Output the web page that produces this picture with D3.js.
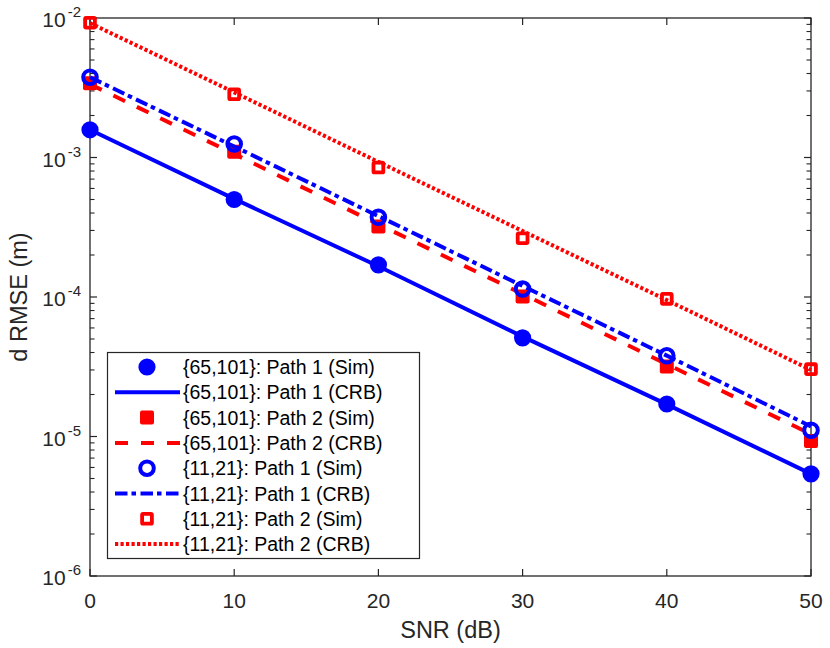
<!DOCTYPE html>
<html lang="en">
<head>
<meta charset="UTF-8" />
<title>d RMSE vs SNR</title>
<script src="https://d3js.org/d3.v7.min.js"></script>
<style>
    body { margin: 0; background: #ffffff; font-family: "Liberation Sans", Arial, sans-serif; }
    svg text { fill: #262626; }
    .legend-text { fill: #000000; }
</style>
</head>
<body>
<svg id="chart" width="830" height="648"></svg>
<script>
    // SNR values (dB)
    const snr = [0, 10, 20, 30, 40, 50];

    // series values
    const p1Sim65 = [1.58e-3, 5.0e-4, 1.70e-4, 5.1e-5, 1.71e-5, 5.4e-6];
    const p1Crb65 = [1.58e-3, 5.05e-4, 1.66e-4, 5.2e-5, 1.7e-5, 5.4e-6];
    const p2Sim65 = [3.4e-3, 1.10e-3, 3.2e-4, 1.01e-4, 3.18e-5, 9.3e-6];
    const p2Crb65 = [3.35e-3, 1.06e-3, 3.32e-4, 1.05e-4, 3.3e-5, 1.04e-5];
    const p1Sim11 = [3.76e-3, 1.25e-3, 3.73e-4, 1.14e-4, 3.79e-5, 1.11e-5];
    const p1Crb11 = [3.76e-3, 1.2e-3, 3.8e-4, 1.2e-4, 3.8e-5, 1.18e-5];
    const p2Sim11 = [9.25e-3, 2.84e-3, 8.47e-4, 2.64e-4, 9.7e-5, 3.04e-5];
    const p2Crb11 = [9.2e-3, 2.93e-3, 9.3e-4, 2.97e-4, 9.5e-5, 3.0e-5];

    // tick labels
    const xTicks = [0, 10, 20, 30, 40, 50];
    const yTickExp = [-2, -3, -4, -5, -6];

    const series = [
        { name: "{65,101}: Path 1 (Sim)", values: p1Sim65, color: "#0000ff", marker: "dot" },
        { name: "{65,101}: Path 1 (CRB)", values: p1Crb65, color: "#0000ff", dash: null },
        { name: "{65,101}: Path 2 (Sim)", values: p2Sim65, color: "#ff0000", marker: "square" },
        { name: "{65,101}: Path 2 (CRB)", values: p2Crb65, color: "#ff0000", dash: "13,13" },
        { name: "{11,21}: Path 1 (Sim)", values: p1Sim11, color: "#0000ff", marker: "ring" },
        { name: "{11,21}: Path 1 (CRB)", values: p1Crb11, color: "#0000ff", dash: "12.5,4,4.5,4.5" },
        { name: "{11,21}: Path 2 (Sim)", values: p2Sim11, color: "#ff0000", marker: "box" },
        { name: "{11,21}: Path 2 (CRB)", values: p2Crb11, color: "#ff0000", dash: "3.2,2.3" }
    ];

    const mLeft = 90, mRight = 811, mTop = 18, mBottom = 576;
    const axisColor = "#262626";

    const svg = d3.select("#chart");

    const x = d3.scaleLinear().domain([0, 50]).range([mLeft, mRight]);
    const y = d3.scaleLog().domain([1e-6, 1e-2]).range([mBottom, mTop]);

    // minor log ticks
    const minorTicks = [];
    for (let e = -6; e < -2; e++) {
        for (let m = 2; m <= 9; m++) minorTicks.push(m * Math.pow(10, e));
    }

    const axes = svg.append("g");

    // box
    axes.append("rect")
        .attr("x", mLeft).attr("y", mTop)
        .attr("width", mRight - mLeft).attr("height", mBottom - mTop)
        .attr("fill", "none").attr("stroke", axisColor).attr("stroke-width", 1.3);

    // x ticks (bottom + top, inward)
    xTicks.forEach(t => {
        axes.append("line").attr("x1", x(t)).attr("x2", x(t))
            .attr("y1", mBottom).attr("y2", mBottom - 7)
            .attr("stroke", axisColor).attr("stroke-width", 1.2);
        axes.append("line").attr("x1", x(t)).attr("x2", x(t))
            .attr("y1", mTop).attr("y2", mTop + 7)
            .attr("stroke", axisColor).attr("stroke-width", 1.2);
        axes.append("text")
            .attr("x", x(t)).attr("y", mBottom + 32)
            .attr("text-anchor", "middle")
            .attr("font-size", "21px")
            .text(t);
    });

    // y major ticks
    yTickExp.forEach(e => {
        const v = Math.pow(10, e);
        axes.append("line").attr("x1", mLeft).attr("x2", mLeft + 7)
            .attr("y1", y(v)).attr("y2", y(v))
            .attr("stroke", axisColor).attr("stroke-width", 1.2);
        axes.append("line").attr("x1", mRight).attr("x2", mRight - 7)
            .attr("y1", y(v)).attr("y2", y(v))
            .attr("stroke", axisColor).attr("stroke-width", 1.2);
        const lab = axes.append("text")
            .attr("x", mLeft - 9).attr("y", y(v) + 9)
            .attr("text-anchor", "end")
            .attr("font-size", "21px");
        lab.append("tspan").text("10");
        lab.append("tspan").attr("dy", -10).attr("font-size", "15px").attr("dx", 2).text(e);
    });

    // y minor ticks
    minorTicks.forEach(v => {
        axes.append("line").attr("x1", mLeft).attr("x2", mLeft + 4.5)
            .attr("y1", y(v)).attr("y2", y(v))
            .attr("stroke", axisColor).attr("stroke-width", 1.1);
        axes.append("line").attr("x1", mRight).attr("x2", mRight - 4.5)
            .attr("y1", y(v)).attr("y2", y(v))
            .attr("stroke", axisColor).attr("stroke-width", 1.1);
    });

    // axis labels
    axes.append("text")
        .attr("x", (mLeft + mRight) / 2).attr("y", 638)
        .attr("text-anchor", "middle")
        .attr("font-size", "23.5px")
        .text("SNR (dB)");

    axes.append("text")
        .attr("transform", `translate(27,${(mTop + mBottom) / 2}) rotate(-90)`)
        .attr("text-anchor", "middle")
        .attr("font-size", "23.5px")
        .text("d RMSE (m)");

    // draw a marker of a given kind
    function drawMarker(g, kind, cx, cy, color) {
        if (kind === "dot") {
            g.append("circle").attr("cx", cx).attr("cy", cy).attr("r", 8.6).attr("fill", color);
        } else if (kind === "square") {
            g.append("rect").attr("x", cx - 7).attr("y", cy - 7)
                .attr("width", 14).attr("height", 14).attr("rx", 2)
                .attr("fill", color);
        } else if (kind === "ring") {
            g.append("circle").attr("cx", cx).attr("cy", cy).attr("r", 6.8)
                .attr("fill", "none").attr("stroke", color).attr("stroke-width", 4);
        } else if (kind === "box") {
            g.append("rect").attr("x", cx - 4.9).attr("y", cy - 4.9)
                .attr("width", 9.8).attr("height", 9.8).attr("rx", 1)
                .attr("fill", "none").attr("stroke", color).attr("stroke-width", 3.8);
        }
    }

    const line = d3.line()
        .x((d, i) => x(snr[i]))
        .y(d => y(d));

    const plot = svg.append("g");

    series.forEach(s => {
        if (s.marker) {
            s.values.forEach((v, i) => drawMarker(plot, s.marker, x(snr[i]), y(v), s.color));
        } else {
            plot.append("path")
                .datum(s.values)
                .attr("d", line)
                .attr("fill", "none")
                .attr("stroke", s.color)
                .attr("stroke-width", 4)
                .attr("stroke-dasharray", s.dash);
        }
    });

    // legend
    const legend = svg.append("g");
    legend.append("rect")
        .attr("x", 107.5).attr("y", 352.5)
        .attr("width", 312).attr("height", 206)
        .attr("fill", "#ffffff").attr("stroke", axisColor).attr("stroke-width", 1.2);

    series.forEach((s, i) => {
        const cy = 367 + i * 25.3;
        if (s.marker) {
            drawMarker(legend, s.marker, 147, cy, s.color);
        } else {
            legend.append("line")
                .attr("x1", 115).attr("x2", 180)
                .attr("y1", cy).attr("y2", cy)
                .attr("stroke", s.color).attr("stroke-width", 4)
                .attr("stroke-dasharray", s.dash);
        }
        legend.append("text")
            .attr("class", "legend-text")
            .attr("x", 183).attr("y", cy + 7)
            .attr("font-size", "19.5px")
            .text(s.name);
    });
</script>
</body>
</html>
